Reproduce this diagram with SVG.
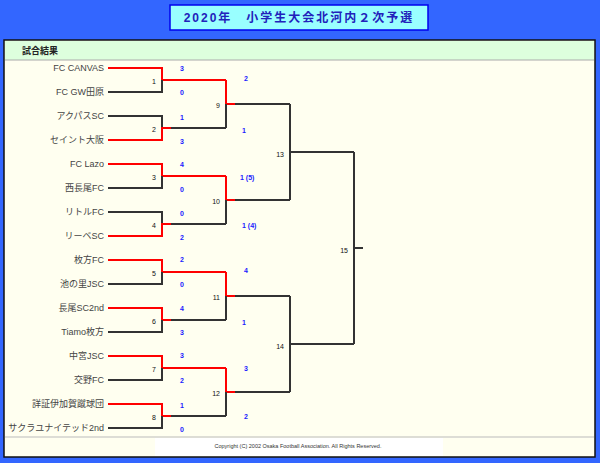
<svg xmlns="http://www.w3.org/2000/svg" width="600" height="463" viewBox="0 0 600 463">
<style>
.t{font-family:"Liberation Sans","Noto Sans CJK JP",sans-serif;font-size:9px;fill:#444;text-anchor:end}
.n{font-family:"Liberation Sans",sans-serif;font-size:7px;fill:#111;text-anchor:end}
.s{font-family:"Liberation Sans",sans-serif;font-size:7px;font-weight:bold;fill:#1a1aff}
.k{stroke:#333;stroke-width:2;fill:none}
.r{stroke:#ff0000;stroke-width:2;fill:none}
</style>
<rect width="600" height="463" fill="#3366ff"/>
<rect x="170" y="5" width="258" height="25" fill="#99ffff" stroke="#0000ee" stroke-width="1.5"/>
<text x="299" y="22" font-family="'Liberation Sans','Noto Sans CJK JP',sans-serif" font-size="12" font-weight="bold" fill="#2222bb" text-anchor="middle" letter-spacing="2">2020年　小学生大会北河内２次予選</text>
<rect x="4" y="40" width="591" height="417" fill="#fffff0" stroke="#111" stroke-width="1.5"/>
<rect x="5" y="41" width="589" height="19" fill="#ddffdd"/>
<line x1="5" y1="60" x2="594" y2="60" stroke="#aaa"/>
<text x="22" y="54" font-family="'Liberation Sans','Noto Sans CJK JP',sans-serif" font-size="9" font-weight="bold" fill="#222">試合結果</text>
<line x1="5" y1="437" x2="594" y2="437" stroke="#bbb"/>
<rect x="155" y="438" width="288" height="18" fill="#fff"/>
<text x="298" y="448" font-family="'Liberation Sans',sans-serif" font-size="5.5" fill="#333" text-anchor="middle">Copyright (C) 2002 Osaka Football Association. All Rights Reserved.</text>
<g id="teams">
<text class="t" x="104" y="71">FC CANVAS</text>
<text class="t" x="104" y="95">FC GW田原</text>
<text class="t" x="104" y="119">アクパスSC</text>
<text class="t" x="104" y="143">セイント大阪</text>
<text class="t" x="104" y="167">FC Lazo</text>
<text class="t" x="104" y="191">西長尾FC</text>
<text class="t" x="104" y="215">リトルFC</text>
<text class="t" x="104" y="239">リーベSC</text>
<text class="t" x="104" y="263">枚方FC</text>
<text class="t" x="104" y="287">池の里JSC</text>
<text class="t" x="104" y="311">長尾SC2nd</text>
<text class="t" x="104" y="335">Tiamo枚方</text>
<text class="t" x="104" y="359">中宮JSC</text>
<text class="t" x="104" y="383">交野FC</text>
<text class="t" x="104" y="407">詳証伊加賀蹴球団</text>
<text class="t" x="104" y="431">サクラユナイテッド2nd</text>
</g>
<g id="connectors">
<!-- round1 -->
<path class="r" d="M108 68H162V80H226"/><path class="k" d="M108 92H162V80"/>
<path class="k" d="M108 116H162V128H226"/><path class="r" d="M108 140H162V128H171"/>
<path class="r" d="M108 164H162V176H226"/><path class="k" d="M108 188H162V176"/>
<path class="k" d="M108 212H162V224H226"/><path class="r" d="M108 236H162V224H171"/>
<path class="r" d="M108 260H162V272H226"/><path class="k" d="M108 284H162V272"/>
<path class="r" d="M108 308H162V320H171"/><path class="k" d="M108 332H162V320M171 320H226"/>
<path class="r" d="M108 356H162V368H226"/><path class="k" d="M108 380H162V368"/>
<path class="r" d="M108 404H162V416H171"/><path class="k" d="M108 428H162V416M171 416H226"/>
<!-- round2 -->
<path class="r" d="M226 80V104H235"/><path class="k" d="M226 104V128M235 104H290"/>
<path class="r" d="M226 176V200H235"/><path class="k" d="M226 200V224M235 200H290"/>
<path class="r" d="M226 272V296H235"/><path class="k" d="M226 296V320M235 296H290"/>
<path class="r" d="M226 368V392H235"/><path class="k" d="M226 392V416M235 392H290"/>
<!-- round3 -->
<path class="k" d="M290 104V200M290 152H354"/>
<path class="k" d="M290 296V392M290 344H354"/>
<path class="k" d="M354 152V344M354 248H363"/>
</g>
<g id="matches">
<text class="n" x="156" y="84">1</text><text class="n" x="156" y="132">2</text>
<text class="n" x="156" y="180">3</text><text class="n" x="156" y="228">4</text>
<text class="n" x="156" y="276">5</text><text class="n" x="156" y="324">6</text>
<text class="n" x="156" y="372">7</text><text class="n" x="156" y="420">8</text>
<text class="n" x="220" y="108">9</text><text class="n" x="220" y="204">10</text>
<text class="n" x="220" y="300">11</text><text class="n" x="220" y="396">12</text>
<text class="n" x="284" y="157">13</text><text class="n" x="284" y="349">14</text>
<text class="n" x="348" y="253">15</text>
</g>
<g id="scores">
<text class="s" x="180" y="71">3</text><text class="s" x="180" y="95">0</text>
<text class="s" x="180" y="120">1</text><text class="s" x="180" y="144">3</text>
<text class="s" x="180" y="167">4</text><text class="s" x="180" y="192">0</text>
<text class="s" x="180" y="216">0</text><text class="s" x="180" y="240">2</text>
<text class="s" x="180" y="262">2</text><text class="s" x="180" y="287">0</text>
<text class="s" x="180" y="311">4</text><text class="s" x="180" y="335">3</text>
<text class="s" x="180" y="358">3</text><text class="s" x="180" y="383">2</text>
<text class="s" x="180" y="408">1</text><text class="s" x="180" y="432">0</text>
<text class="s" x="244" y="81">2</text><text class="s" x="242" y="133">1</text>
<text class="s" x="240" y="180">1  (5)</text><text class="s" x="242" y="228">1  (4)</text>
<text class="s" x="244" y="273">4</text><text class="s" x="242" y="325">1</text>
<text class="s" x="244" y="371">3</text><text class="s" x="244" y="419">2</text>
</g>
</svg>
